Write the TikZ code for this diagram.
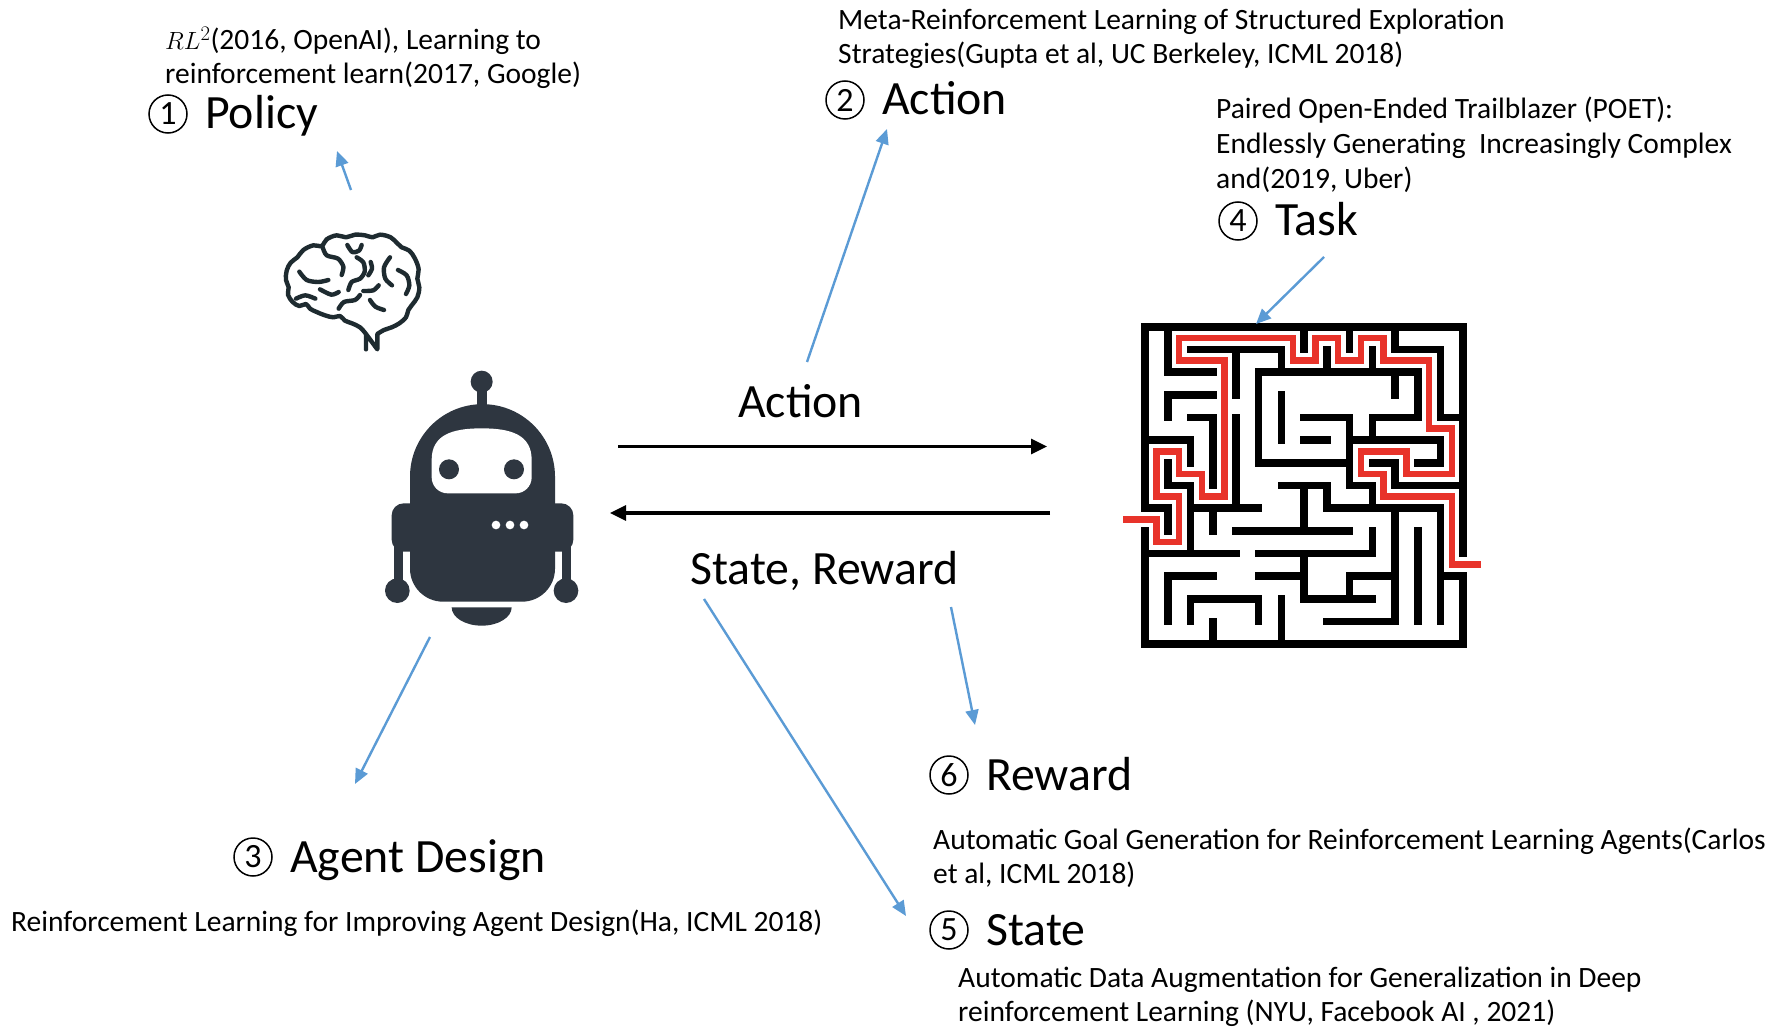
\documentclass[tikz,border=0pt]{standalone}
\usepackage{fontspec}
\setmainfont{Carlito}
\usetikzlibrary{arrows.meta}
\definecolor{ink}{HTML}{2E3640}
\definecolor{bluearr}{HTML}{5B9BD5}
\definecolor{mazered}{HTML}{E8332A}
\definecolor{brainink}{HTML}{1E2B30}
\tikzset{
  paper/.style={anchor=base west, inner sep=0pt, font=\fontsize{29.5}{34}\selectfont},
  head/.style={anchor=base west, inner sep=0pt, font=\fontsize{47.8}{50}\selectfont},
  numc/.style={circle, draw, line width=1.5pt, minimum size=38pt, inner sep=0pt, font=\fontsize{34}{34}\selectfont},
  flow/.style={line width=3.2pt, -{Triangle[length=16pt,width=15pt]}},
  link/.style={bluearr, line width=2.4pt, -{Triangle[length=15pt,width=13pt]}},
  wall/.style={line width=7.6pt, line cap=rect, line join=miter},
  route/.style={mazered, line width=6.5pt, line join=miter},
  brainline/.style={brainink, line width=4.4pt, line cap=round, line join=round},
}
\begin{document}
\begin{tikzpicture}[x=1pt, y=-1pt]
\fill[white] (0,0) rectangle (1785,1027);
\useasboundingbox (0,0) rectangle (1785,1027);

% ---------- robot ----------
\begin{scope}[shift={(370,360)}, scale=1/3]
  \fill[ink] (335,65) circle[radius=33];
  \fill[ink] (320,80) rectangle (350,140);
  \fill[ink] (337.5,350) circle[radius=217.5];
  \fill[ink] (120,350) [rounded corners=33pt] -- (120,725) -- (555,725) [sharp corners] -- (555,350) -- cycle;
  \fill[ink, rounded corners=12pt] (65,430) rectangle (200,575);
  \fill[ink, rounded corners=12pt] (475,430) rectangle (610,575);
  \fill[ink] (72,560) rectangle (100,670);
  \fill[ink] (575,560) rectangle (603,670);
  \fill[ink] (82,692) circle[radius=37];
  \fill[ink] (588,692) circle[radius=37];
  \fill[white] (185,300) .. controls (185,225) and (245,205) .. (335,205)
     .. controls (425,205) and (485,225) .. (485,300)
     [rounded corners=16pt] -- (485,400) -- (185,400) [sharp corners] -- cycle;
  \fill[ink] (237,328) circle[radius=30];
  \fill[ink] (432,328) circle[radius=30];
  \foreach \dx in {378,420,462} \fill[white] (\dx,495) circle[radius=13];
  \fill[ink] (425,742) arc[start angle=0, end angle=180, x radius=90, y radius=55] -- cycle;
\end{scope}
\coordinate (robot-top) at (430,637);

% ---------- brain ----------
\begin{scope}[shift={(260,200)}, scale=1/3]
  \draw[brainline] (318,448) -- (318,402)
    plot[smooth, tension=0.6] coordinates {(318,402) (300,382) (276,370) (255,362) (240,348) (220,352) (195,346) (170,336) (150,326) (138,312) (118,318) (98,306) (84,284) (86,262) (78,240) (80,212) (92,188) (112,172) (130,150) (160,136) (185,138) (200,118) (230,106) (258,112) (285,104) (315,106) (338,112) (360,104) (392,112) (412,130) (425,142) (448,152) (465,176) (476,208) (472,236) (478,262) (472,292) (455,316) (445,330) (438,352) (418,370) (395,382) (372,390) (352,402)}
    -- (352,448) -- cycle;
  \draw[brainline] plot[smooth] coordinates {(262,135) (277,156) (297,152) (305,135)};
  \draw[brainline] plot[smooth] coordinates {(188,142) (200,166) (234,176) (250,200) (245,225)};
  \draw[brainline] plot[smooth] coordinates {(118,215) (140,240) (175,246) (205,240)};
  \draw[brainline] plot[smooth] coordinates {(290,172) (310,187) (314,215) (300,236) (275,246) (265,270)};
  \draw[brainline] plot[smooth] coordinates {(332,186) (336,206) (325,226)};
  \draw[brainline] plot[smooth] coordinates {(390,172) (372,202) (376,236) (396,256)};
  \draw[brainline] plot[smooth] coordinates {(414,210) (440,226) (448,256) (438,282)};
  \draw[brainline] plot[smooth] coordinates {(356,256) (340,271) (310,273)};
  \draw[brainline] plot[smooth] coordinates {(236,326) (252,306) (285,300) (300,285)};
  \draw[brainline] plot[smooth] coordinates {(108,296) (136,286) (166,296)};
  \draw[brainline] plot[smooth] coordinates {(330,300) (346,320) (372,330)};
  \draw[brainline] plot[smooth] coordinates {(180,268) (214,284) (236,276)};
\end{scope}

% ---------- maze ----------
\begin{scope}[shift={(1145,326.7)}, x=22.73pt, y=-22.67pt]
  \draw[route] (-0.95,8.5) -- (0.5,8.5) -- (0.5,9.5) -- (1.5,9.5) -- (1.5,7.5) -- (0.5,7.5)
    -- (0.5,5.5) -- (1.5,5.5) -- (1.5,6.5) -- (2.5,6.5) -- (2.5,7.5) -- (3.5,7.5) -- (3.5,1.5)
    -- (1.5,1.5) -- (1.5,0.5) -- (6.5,0.5) -- (6.5,1.5) -- (7.5,1.5) -- (7.5,0.5) -- (8.5,0.5)
    -- (8.5,1.5) -- (9.5,1.5) -- (9.5,0.5) -- (10.5,0.5) -- (10.5,1.5) -- (12.5,1.5) -- (12.5,4.5)
    -- (13.5,4.5) -- (13.5,6.5) -- (11.5,6.5) -- (11.5,5.5) -- (9.5,5.5) -- (9.5,6.5) -- (10.5,6.5)
    -- (10.5,7.5) -- (13.5,7.5) -- (13.5,10.5) -- (14.8,10.5);
  \draw[wall] (0,8) -- (0,0) -- (14,0) -- (14,10) (14,11) -- (14,14) -- (0,14) -- (0,9);
  \draw[wall]
    (1,0)--(1,2)--(3,2) (1,3)--(3,3) (1,3)--(1,4) (2,1)--(6,1)--(6,2) (4,1)--(4,3)
    (2,4)--(3,4)--(3,7) (0,5)--(2,5)--(2,6) (4,4)--(4,8) (5,2)--(6,2) (5,2)--(5,6)
    (1,6)--(1,7)--(2,7)--(2,8)--(3,8) (0,8)--(1,8)--(1,9)
    (6,2)--(12,2)--(12,4) (11,2)--(11,3) (6,3)--(6,5) (7,4)--(9,4)--(9,5) (7,5)--(8,5)
    (10,4)--(12,4) (10,4)--(10,5) (13,1)--(13,4) (11,1)--(13,1) (11,0)--(11,1)
    (7,0)--(7,1) (9,0)--(9,1) (8,1)--(8,2) (10,1)--(10,2) (13,4)--(14,4)
    (9,5)--(13,5)--(13,6) (12,6)--(13,6) (9,5)--(9,7)--(10,7)--(10,8) (11,7)--(14,7)
    (10,6)--(11,6)--(11,7) (5,6)--(9,6) (6,7)--(8,7)--(8,8) (7,7)--(7,9)
    (8,8)--(13,8) (4,9)--(9,9) (10,9)--(10,10) (5,10)--(10,10) (11,8)--(11,13)
    (12,9)--(12,13) (13,8)--(13,13) (13,11)--(14,11) (0,10)--(4,10) (2,8)--(2,10) (3,8)--(5,8) (3,8)--(3,9)
    (1,11)--(3,11) (1,11)--(1,13) (2,12)--(5,12) (2,12)--(2,13) (5,12)--(5,13)
    (3,13)--(3,14) (6,12)--(6,14) (5,11)--(7,11) (7,10)--(7,12) (7,12)--(10,12)
    (9,11)--(11,11) (9,11)--(9,12) (8,13)--(11,13);
\end{scope}
\coordinate (maze-top) at (1256,324);

% ---------- main loop ----------
\coordinate (act-from) at (618,446.5);
\coordinate (act-to) at (1047,446.5);
\coordinate (obs-from) at (1050,513);
\coordinate (obs-to) at (610,513);
\draw[flow] (act-from) -- (act-to);
\draw[flow] (obs-from) -- (obs-to);
\node[head] (act-label) at (738,417) {Action};
\node[head] (obs-label) at (690,584) {State, Reward};

% ---------- headings ----------
\node[head] (policy) at (205,129) {Policy};
\node[numc] (policy-n) at (168,114) {1};
\node[head] (action) at (882,115) {Action};
\node[numc] (action-n) at (845,100) {2};
\node[head] (task) at (1275,236) {Task};
\node[numc] (task-n) at (1238,221) {4};
\node[head] (agent) at (290,872) {Agent Design};
\node[numc] (agent-n) at (253,857) {3};
\node[head] (reward) at (986,790) {Reward};
\node[numc] (reward-n) at (949,775) {6};
\node[head] (state) at (986,945) {State};
\node[numc] (state-n) at (949,930) {5};

% ---------- references ----------
\node[paper] (p1a) at (165,50) {$RL^2$(2016, OpenAI), Learning to};
\node[paper] (p1b) at (165,84) {reinforcement learn(2017, Google)};
\node[paper] (p2a) at (838,29.5) {Meta-Reinforcement Learning of Structured Exploration};
\node[paper] (p2b) at (838,63.5) {Strategies(Gupta et al, UC Berkeley, ICML 2018)};
\node[paper] (p4a) at (1216,119) {Paired Open-Ended Trailblazer (POET):};
\node[paper] (p4b) at (1216,154) {Endlessly Generating\ \ Increasingly Complex};
\node[paper] (p4c) at (1216,189) {and(2019, Uber)};
\node[paper] (p3) at (11,931) {Reinforcement Learning for Improving Agent Design(Ha, ICML 2018)};
\node[paper] (p6a) at (933,849) {Automatic Goal Generation for Reinforcement Learning Agents(Carlos};
\node[paper] (p6b) at (933,883) {et al, ICML 2018)};
\node[paper] (p5a) at (958,987) {Automatic Data Augmentation for Generalization in Deep};
\node[paper] (p5b) at (958,1021) {reinforcement Learning (NYU, Facebook AI , 2021)};

% ---------- pointers ----------
\coordinate (brain-top) at (351,190);
\coordinate (policy-foot) at (337,151);
\coordinate (act-top) at (807,362);
\coordinate (action-foot) at (887,129);
\coordinate (task-foot) at (1324,257);
\coordinate (agent-top) at (355,784);
\coordinate (obs-left) at (704,599);
\coordinate (state-top) at (906,916);
\coordinate (obs-right) at (951,607);
\coordinate (reward-top) at (975,725);
\draw[link] (brain-top) -- (policy-foot);
\draw[link] (act-top) -- (action-foot);
\draw[link] (task-foot) -- (maze-top);
\draw[link] (robot-top) -- (agent-top);
\draw[link] (obs-left) -- (state-top);
\draw[link] (obs-right) -- (reward-top);
\end{tikzpicture}
\end{document}
